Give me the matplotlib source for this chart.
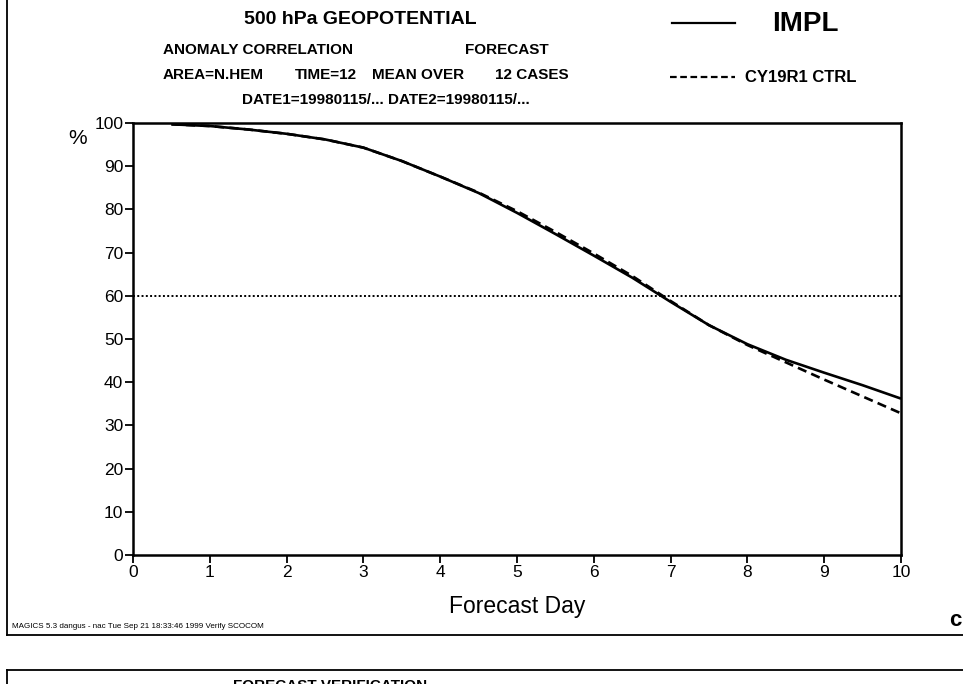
import matplotlib
matplotlib.use('Agg')
import matplotlib.pyplot as plt
from matplotlib.lines import Line2D

plt.rcParams['font.family'] = ['Liberation Sans', 'DejaVu Sans']

# ── data ──
days = [0.5, 1.0, 1.5, 2.0, 2.5, 3.0, 3.5, 4.0, 4.5, 5.0,
        5.5, 6.0, 6.5, 7.0, 7.5, 8.0, 8.5, 9.0, 9.5, 10.0]
impl = [99.7, 99.3, 98.5, 97.5, 96.2, 94.3, 91.2, 87.6, 83.8, 79.2,
        74.3, 69.3, 64.2, 58.6, 53.2, 48.8, 45.2, 42.2, 39.3, 36.2]
ctrl = [99.7, 99.3, 98.5, 97.5, 96.2, 94.3, 91.2, 87.6, 83.9, 79.6,
        74.8, 69.8, 64.6, 58.8, 53.2, 48.6, 44.6, 40.6, 36.7, 32.8]
ref_level = 60
xticks = list(range(0, 11))
yticks = list(range(0, 101, 10))

W, H = 963, 684
fig = plt.figure(figsize=(W / 100, H / 100), dpi=100)

def fx(px):
    return px / W

def fy(py):
    return 1 - py / H

ax = fig.add_axes([fx(133), fy(555), fx(901) - fx(133), fy(123) - fy(555)])
ax.plot(days, impl, color='black', lw=1.9, solid_capstyle='butt')
ax.plot(days, ctrl, color='black', lw=1.9, ls=(0, (3.5, 2)))
ax.axhline(ref_level, color='black', lw=1.4, ls=(0, (1, 1.2)))

ax.set_xlim(0, 10)
ax.set_ylim(0, 100)
ax.set_xticks(xticks)
ax.set_yticks(yticks)
ax.tick_params(direction='out', length=6, width=1.3, labelsize=12.5, pad=1)
for s in ax.spines.values():
    s.set_linewidth(1.8)
fig.text(fx(517), fy(607), 'Forecast Day', ha='center', va='center', fontsize=16.5)

# ── header text ──
bold = dict(fontweight='bold', color='black')
hs = 11
fig.text(fx(360), fy(20), '500 hPa GEOPOTENTIAL', ha='center', va='center', fontsize=14, **bold)
fig.text(fx(163), fy(50), 'ANOMALY CORRELATION', ha='left', va='center', fontsize=hs, **bold)
fig.text(fx(465), fy(50), 'FORECAST', ha='left', va='center', fontsize=hs, **bold)
for px, word in [(163, 'AREA=N.HEM'), (295, 'TIME=12'), (372, 'MEAN OVER'), (495, '12 CASES')]:
    fig.text(fx(px), fy(75), word, ha='left', va='center', fontsize=hs, **bold)
fig.text(fx(242), fy(100), 'DATE1=19980115/... DATE2=19980115/...',
         ha='left', va='center', fontsize=hs, **bold)
fig.text(fx(78), fy(139), '%', ha='center', va='center', fontsize=15)

# ── legend ──
fig.add_artist(Line2D([fx(672), fx(735)], [fy(23), fy(23)], color='black', lw=1.6))
fig.text(fx(772), fy(24), 'IMPL', ha='left', va='center', fontsize=20, **bold)
fig.add_artist(Line2D([fx(670), fx(735)], [fy(77), fy(77)], color='black', lw=1.6,
                      ls=(0, (3, 1.6))))
fig.text(fx(745), fy(77), 'CY19R1 CTRL', ha='left', va='center', fontsize=12, **bold)

# ── page frame ──
fig.add_artist(Line2D([fx(7), fx(7)], [fy(0), fy(635)], color='black', lw=1.3))
fig.add_artist(Line2D([fx(7), fx(963)], [fy(635), fy(635)], color='black', lw=1.3))
fig.add_artist(Line2D([fx(7), fx(963)], [fy(670), fy(670)], color='black', lw=1.3))
fig.add_artist(Line2D([fx(7), fx(7)], [fy(670), fy(684)], color='black', lw=1.3))
fig.text(fx(12), fy(627), 'MAGICS 5.3 dangus - nac Tue Sep 21 18:33:46 1999 Verify SCOCOM',
         ha='left', va='center', fontsize=5.8)
fig.text(fx(949), fy(621), 'c', ha='left', va='center', fontsize=16, **bold)
fig.text(fx(233), fy(679), 'FORECAST VERIFICATION', ha='left', va='top', fontsize=11, **bold)

fig.savefig('out.png', dpi=100, facecolor='white')
